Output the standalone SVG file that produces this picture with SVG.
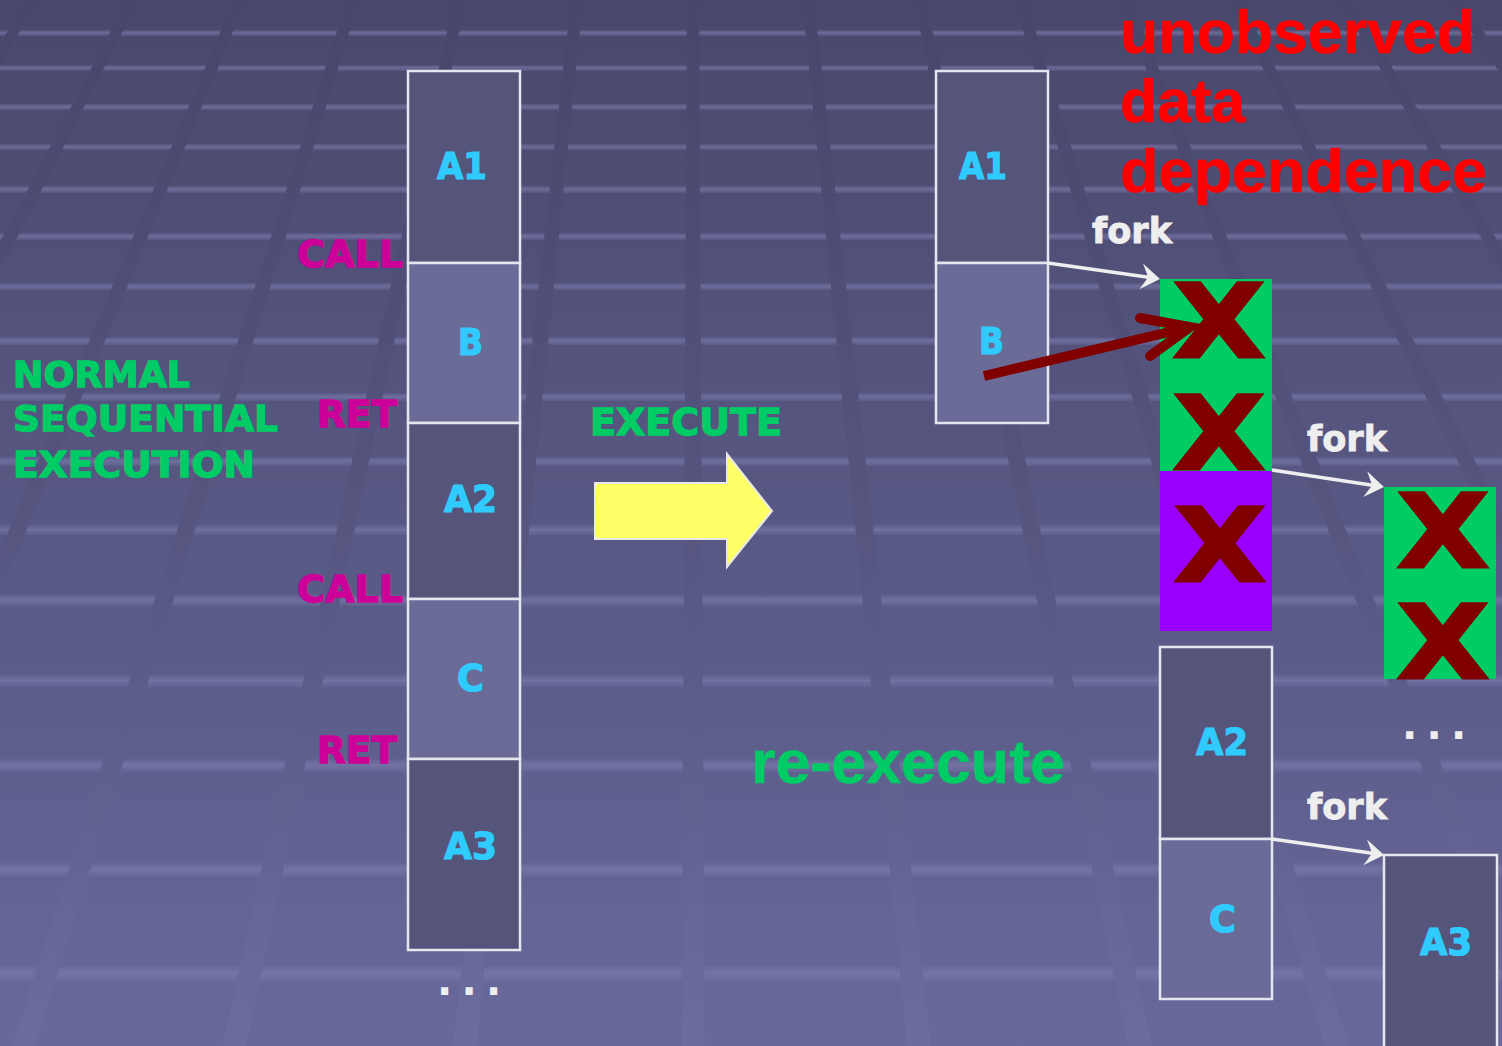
<svg xmlns="http://www.w3.org/2000/svg" width="1502" height="1046" viewBox="0 0 1502 1046">
<defs>
<linearGradient id="bg" x1="0" y1="0" x2="0" y2="1046" gradientUnits="userSpaceOnUse">
<stop offset="0" stop-color="#49486c"/>
<stop offset="0.5" stop-color="#585884"/>
<stop offset="1" stop-color="#68689b"/>
</linearGradient>
<linearGradient id="stripe" x1="0" y1="0" x2="0" y2="1046" gradientUnits="userSpaceOnUse">
<stop offset="0" stop-color="#47466b"/>
<stop offset="0.45" stop-color="#53537d"/>
<stop offset="1" stop-color="#6c6c9f"/>
</linearGradient>
<linearGradient id="band" x1="0" y1="0" x2="0" y2="1">
<stop offset="0" stop-color="#7a7aac" stop-opacity="0.15"/>
<stop offset="0.45" stop-color="#7a7aac" stop-opacity="0.7"/>
<stop offset="1" stop-color="#7a7aac" stop-opacity="0.2"/>
</linearGradient>
<marker id="fork" viewBox="-10 -14 22 28" markerWidth="22" markerHeight="28" refX="0" refY="0" orient="auto" markerUnits="userSpaceOnUse">
<path d="M10,0 L-9,-13 L-2,0 L-9,13 Z" fill="#eeeeee"/>
</marker>
<style>
.box{stroke:#e6e6ee;stroke-width:2.5}
.dark{fill:#55557b}
.light{fill:#6b6b97}
.lbl{font-family:"DejaVu Sans","Liberation Sans",sans-serif;font-weight:bold;fill:#2fcbff;stroke:#2fcbff;stroke-width:1.2px;font-size:37px}
.blk{font-family:"DejaVu Sans","Liberation Sans",sans-serif;font-weight:bold;stroke-width:1.3px}
.mag{fill:#cc0099;stroke:#cc0099;font-size:38px}
.grn{fill:#00cc66;stroke:#00cc66}
.ar{font-family:"Liberation Sans",Arial,sans-serif;font-weight:bold}
.fork{font-family:"DejaVu Sans","Liberation Sans",sans-serif;font-weight:bold;fill:#eeeeee;stroke:#eeeeee;stroke-width:0.9px;font-size:36px}
.x{font-family:"DejaVu Sans","Liberation Sans",sans-serif;font-weight:bold;fill:#800000;stroke:#800000;stroke-width:3px;font-size:101px}
.dots{font-family:"DejaVu Sans",sans-serif;font-weight:bold;fill:#eeeeee;font-size:40px;letter-spacing:9.3px}
.wl{stroke:#eeeeee;stroke-width:3.5;fill:none}
</style>
</defs>

<g id="background">
<rect x="0" y="0" width="1502" height="1046" fill="url(#bg)"/>
<g fill="url(#band)">
<rect x="0" y="30" width="1502" height="6"/>
<rect x="0" y="65" width="1502" height="6"/>
<rect x="0" y="104" width="1502" height="6"/>
<rect x="0" y="144" width="1502" height="6"/>
<rect x="0" y="186" width="1502" height="7"/>
<rect x="0" y="233" width="1502" height="7"/>
<rect x="0" y="283" width="1502" height="7"/>
<rect x="0" y="337" width="1502" height="8"/>
<rect x="0" y="393" width="1502" height="8"/>
<rect x="0" y="457" width="1502" height="9"/>
<rect x="0" y="525" width="1502" height="10"/>
<rect x="0" y="595" width="1502" height="11"/>
<rect x="0" y="675" width="1502" height="12"/>
<rect x="0" y="759" width="1502" height="13"/>
<rect x="0" y="863" width="1502" height="14"/>
<rect x="0" y="966" width="1502" height="16"/>
</g>
<g fill="url(#stripe)">
<polygon points="27,0 39,0 -594.4,1046 -618,1046"/>
<polygon points="127,0 139,0 -397.5,1046 -421.2,1046"/>
<polygon points="234,0 246,0 -186.9,1046 -210.5,1046"/>
<polygon points="347,0 359,0 35.5,1046 11.9,1046"/>
<polygon points="454,0 466,0 246.2,1046 222.5,1046"/>
<polygon points="571,0 583,0 476.5,1046 452.8,1046"/>
<polygon points="687,0 699,0 704.8,1046 681.2,1046"/>
<polygon points="802,0 814,0 931.2,1046 907.6,1046"/>
<polygon points="914,0 926,0 1151.7,1046 1128,1046"/>
<polygon points="1014,0 1026,0 1348.5,1046 1324.9,1046"/>
<polygon points="1119,0 1131,0 1555.2,1046 1531.6,1046"/>
<polygon points="1229,0 1241,0 1771.7,1046 1748.1,1046"/>
<polygon points="1339,0 1351,0 1988.3,1046 1964.7,1046"/>
<polygon points="1449,0 1461,0 2204.8,1046 2181.2,1046"/>
</g>
</g>

<g id="seq-A1"><rect class="box dark" x="408" y="71" width="112" height="192"/><text class="lbl" x="437" y="179" textLength="50" lengthAdjust="spacingAndGlyphs">A1</text></g>
<g id="seq-B"><rect class="box light" x="408" y="263" width="112" height="160"/><text class="lbl" x="458" y="355" textLength="25" lengthAdjust="spacingAndGlyphs">B</text></g>
<g id="seq-A2"><rect class="box dark" x="408" y="423" width="112" height="176"/><text class="lbl" x="444" y="512" textLength="53" lengthAdjust="spacingAndGlyphs">A2</text></g>
<g id="seq-C"><rect class="box light" x="408" y="599" width="112" height="160"/><text class="lbl" x="457" y="691" textLength="27" lengthAdjust="spacingAndGlyphs">C</text></g>
<g id="seq-A3"><rect class="box dark" x="408" y="759" width="112" height="191"/><text class="lbl" x="444" y="859" textLength="53" lengthAdjust="spacingAndGlyphs">A3</text></g>
<g id="seq-dots"><text class="dots" x="437" y="995">...</text></g>

<g id="labels-left">
<text class="blk mag" x="297" y="267" textLength="106" lengthAdjust="spacingAndGlyphs">CALL</text>
<text class="blk mag" x="317" y="427" textLength="80" lengthAdjust="spacingAndGlyphs">RET</text>
<text class="blk mag" x="297" y="602" textLength="106" lengthAdjust="spacingAndGlyphs">CALL</text>
<text class="blk mag" x="317" y="763" textLength="80" lengthAdjust="spacingAndGlyphs">RET</text>
</g>

<g id="title-normal" class="blk grn" font-size="36">
<text x="13" y="387" textLength="177" lengthAdjust="spacingAndGlyphs">NORMAL</text>
<text x="13" y="431" textLength="265" lengthAdjust="spacingAndGlyphs">SEQUENTIAL</text>
<text x="13" y="477" textLength="242" lengthAdjust="spacingAndGlyphs">EXECUTION</text>
</g>

<g id="execute">
<text class="blk grn" font-size="37" x="590" y="435" textLength="192" lengthAdjust="spacingAndGlyphs">EXECUTE</text>
<polygon points="595,483 727,483 727,454 772,511 727,567 727,539 595,539" fill="#ffff66" stroke="#e8e8e8" stroke-width="2"/>
</g>

<g id="reexecute"><text class="ar grn" font-size="62" x="751" y="783" textLength="314" lengthAdjust="spacingAndGlyphs" stroke-width="0.6">re-execute</text></g>

<g id="note" class="ar" fill="#ff0000" stroke="#ff0000" stroke-width="0.6" font-size="62">
<text x="1120" y="53" textLength="355" lengthAdjust="spacingAndGlyphs">unobserved</text>
<text x="1120" y="122" textLength="125" lengthAdjust="spacingAndGlyphs">data</text>
<text x="1120" y="192" textLength="367" lengthAdjust="spacingAndGlyphs">dependence</text>
</g>

<g id="par-A1"><rect class="box dark" x="936" y="71" width="112" height="192"/><text class="lbl" x="959" y="179" textLength="48" lengthAdjust="spacingAndGlyphs">A1</text></g>
<g id="par-B"><rect class="box light" x="936" y="263" width="112" height="160"/><text class="lbl" x="979" y="354" textLength="25" lengthAdjust="spacingAndGlyphs">B</text></g>

<g id="spec-1">
<rect x="1160" y="279" width="112" height="192" fill="#00cc66"/>
<text class="x" transform="translate(1219,357) scale(1.18,1)" text-anchor="middle">X</text>
<text class="x" transform="translate(1219,469) scale(1.18,1)" text-anchor="middle">X</text>
</g>
<g id="spec-purple">
<rect x="1160" y="471" width="112" height="160" fill="#9900ff"/>
<text class="x" transform="translate(1220,581) scale(1.18,1)" text-anchor="middle">X</text>
</g>
<g id="spec-2">
<rect x="1384" y="487" width="112" height="192" fill="#00cc66"/>
<text class="x" transform="translate(1443,567) scale(1.18,1)" text-anchor="middle">X</text>
<text class="x" transform="translate(1443,678) scale(1.18,1)" text-anchor="middle">X</text>
</g>
<g id="spec-dots"><text class="dots" x="1402" y="739">...</text></g>

<g id="par-A2"><rect class="box dark" x="1160" y="647" width="112" height="192"/><text class="lbl" x="1196" y="755" textLength="52" lengthAdjust="spacingAndGlyphs">A2</text></g>
<g id="par-C"><rect class="box light" x="1160" y="839" width="112" height="160"/><text class="lbl" x="1209" y="932" textLength="27" lengthAdjust="spacingAndGlyphs">C</text></g>
<g id="par-A3"><rect class="box dark" x="1384" y="855" width="113" height="200"/><text class="lbl" x="1420" y="955" textLength="52" lengthAdjust="spacingAndGlyphs">A3</text></g>

<g id="fork-labels">
<text class="fork" x="1092" y="243" textLength="80" lengthAdjust="spacingAndGlyphs">fork</text>
<text class="fork" x="1307" y="451" textLength="80" lengthAdjust="spacingAndGlyphs">fork</text>
<text class="fork" x="1307" y="819" textLength="80" lengthAdjust="spacingAndGlyphs">fork</text>
</g>

<g id="connectors">
<line class="wl" x1="1048" y1="263" x2="1150.1" y2="277.6" marker-end="url(#fork)"/>
<line class="wl" x1="1272" y1="470" x2="1374.1" y2="485.5" marker-end="url(#fork)"/>
<line class="wl" x1="1272" y1="839" x2="1374.1" y2="853.6" marker-end="url(#fork)"/>
<g stroke="#800000" stroke-width="10" fill="none">
<line x1="984" y1="376" x2="1186" y2="328"/>
<polyline points="1140,318 1190,327 1150,356" stroke-linecap="round" stroke-linejoin="miter"/>
</g>
</g>
</svg>
